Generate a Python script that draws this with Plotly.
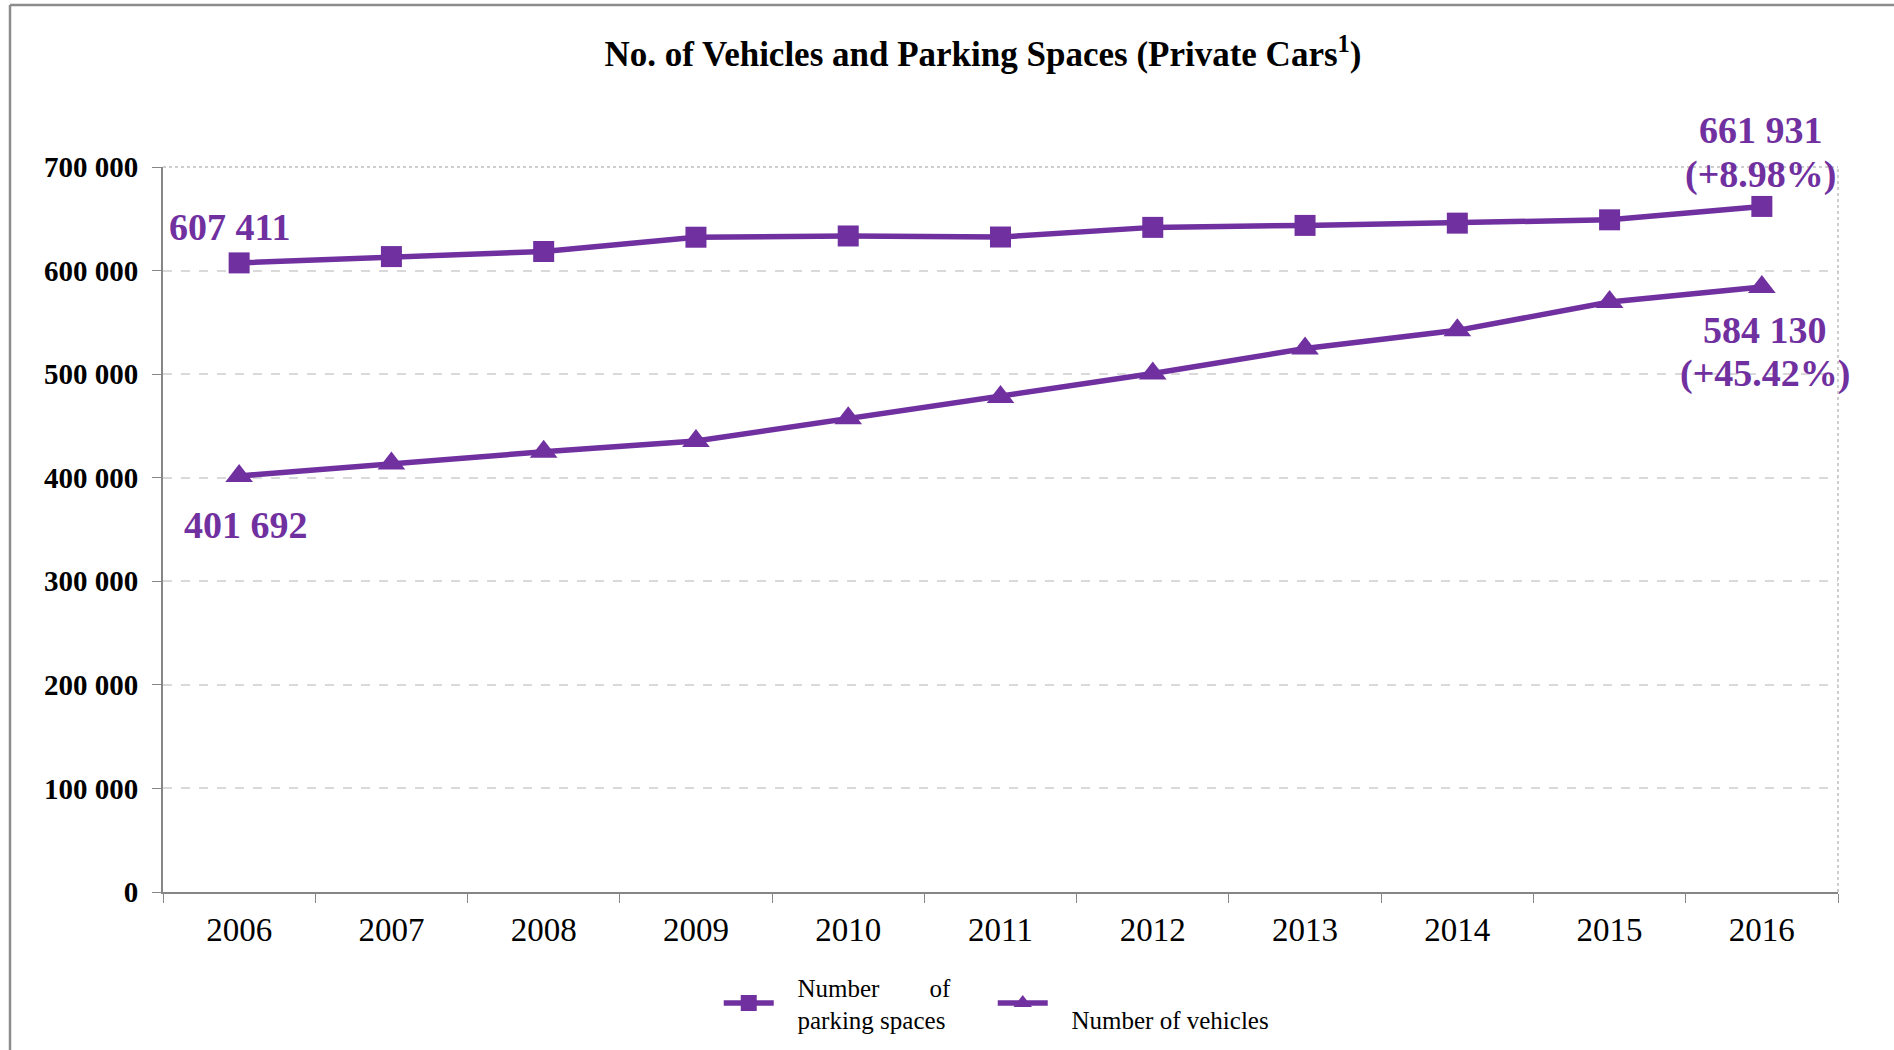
import plotly.graph_objects as go

years = ["2006", "2007", "2008", "2009", "2010", "2011", "2012", "2013", "2014", "2015", "2016"]
parking_spaces = [607411, 613500, 618400, 632200, 633400, 632400, 641700, 643600, 645800, 649000, 661931]
vehicles = [401692, 413800, 425100, 435400, 457300, 478000, 500600, 524700, 542300, 569600, 584130]
y_ticks = [0, 100000, 200000, 300000, 400000, 500000, 600000, 700000]

PURPLE = "#7030A0"
SERIF = "Liberation Serif, Times New Roman, serif"
NB = "&nbsp;"


def fmt(v):
    return f"{v:,}".replace(",", " ")


fig = go.Figure()
fig.add_trace(go.Scatter(
    x=years, y=parking_spaces, mode="lines+markers",
    name=NB * 3 + "Number" + NB * 8 + "of" + NB * 6 + "<br>" + NB * 3 + "parking spaces",
    line=dict(color=PURPLE, width=5.5),
    marker=dict(symbol="square", size=21, color=PURPLE),
))
fig.add_trace(go.Scatter(
    x=years, y=vehicles, mode="lines+markers",
    name=NB + "<br>" + NB * 3 + "Number of vehicles",
    line=dict(color=PURPLE, width=5.5),
    marker=dict(symbol="triangle-up", size=24, color=PURPLE),
))

ps_pct = (parking_spaces[-1] / parking_spaces[0] - 1) * 100
vh_pct = (vehicles[-1] / vehicles[0] - 1) * 100
first, last = 0, len(years) - 1
ann_font = dict(family=SERIF, size=38, color=PURPLE, weight="bold")
annotations = [
    dict(x=first, y=parking_spaces[first], text=fmt(parking_spaces[first]), xshift=-10, yshift=36),
    dict(x=first, y=vehicles[first], text=fmt(vehicles[first]), xshift=7, yshift=-49),
    dict(x=last, y=parking_spaces[last], text=fmt(parking_spaces[last]), xshift=-1, yshift=76),
    dict(x=last, y=parking_spaces[last], text=f"(+{ps_pct:.2f}%)", xshift=-1, yshift=32),
    dict(x=last, y=vehicles[last], text=fmt(vehicles[last]), xshift=3, yshift=-43),
    dict(x=last, y=vehicles[last], text=f"(+{vh_pct:.2f}%)", xshift=3, yshift=-86),
]
for a in annotations:
    a.update(xref="x", yref="y", showarrow=False, font=ann_font, xanchor="center", yanchor="middle")

fig.update_layout(
    width=1894, height=1050,
    margin=dict(l=163, r=56, t=167, b=158),
    paper_bgcolor="white", plot_bgcolor="white",
    separators=". ",
    title=dict(
        text="<b>No. of Vehicles and Parking Spaces (Private Cars<sup>1</sup>)</b>",
        font=dict(family=SERIF, size=35, color="black"),
        x=983 / 1894, xref="container", xanchor="center",
        y=1 - 54 / 1050, yref="container", yanchor="middle",
    ),
    xaxis=dict(
        type="category", range=[-0.5, 10.5],
        tickson="boundaries", ticks="outside", ticklen=9, tickcolor="#868686",
        showline=True, linecolor="#868686", linewidth=2,
        showgrid=False, tickfont=dict(family=SERIF, size=33, color="black"),
        ticklabelstandoff=7,
    ),
    yaxis=dict(
        range=[0, 700000], tickvals=y_ticks, tickformat=",d",
        ticks="outside", ticklen=9, tickcolor="#868686",
        showline=True, linecolor="#868686", linewidth=2,
        showgrid=True, gridcolor="#D9D9D9", griddash="dash", gridwidth=1.5,
        zeroline=False,
        tickfont=dict(family=SERIF, size=29, color="black", weight="bold"),
        ticklabelstandoff=8,
    ),
    legend=dict(
        orientation="h", xref="container", x=0.526, xanchor="center",
        yref="container", y=1 - 964 / 1050, yanchor="top",
        font=dict(family=SERIF, size=25, color="black"),
        itemwidth=50, bgcolor="rgba(0,0,0,0)",
    ),
    annotations=annotations,
    shapes=[
        dict(type="line", xref="x domain", yref="y domain", x0=1, x1=1, y0=0, y1=1,
             line=dict(color="#BFBFBF", width=1.5, dash="dot")),
        dict(type="line", xref="x domain", yref="y domain", x0=0, x1=1, y0=1, y1=1,
             line=dict(color="#BFBFBF", width=1.5, dash="dot")),
        dict(type="line", xref="paper", yref="paper", layer="above",
             x0=-153 / 1675, x1=-153 / 1675, y0=-158 / 725, y1=887 / 725,
             line=dict(color="#8C8C8C", width=2.5)),
        dict(type="line", xref="paper", yref="paper", layer="above",
             x0=-153 / 1675, x1=1731 / 1675, y0=887 / 725, y1=887 / 725,
             line=dict(color="#8C8C8C", width=2.5)),
    ],
)

fig.write_html("out.html", config={"displayModeBar": False})
